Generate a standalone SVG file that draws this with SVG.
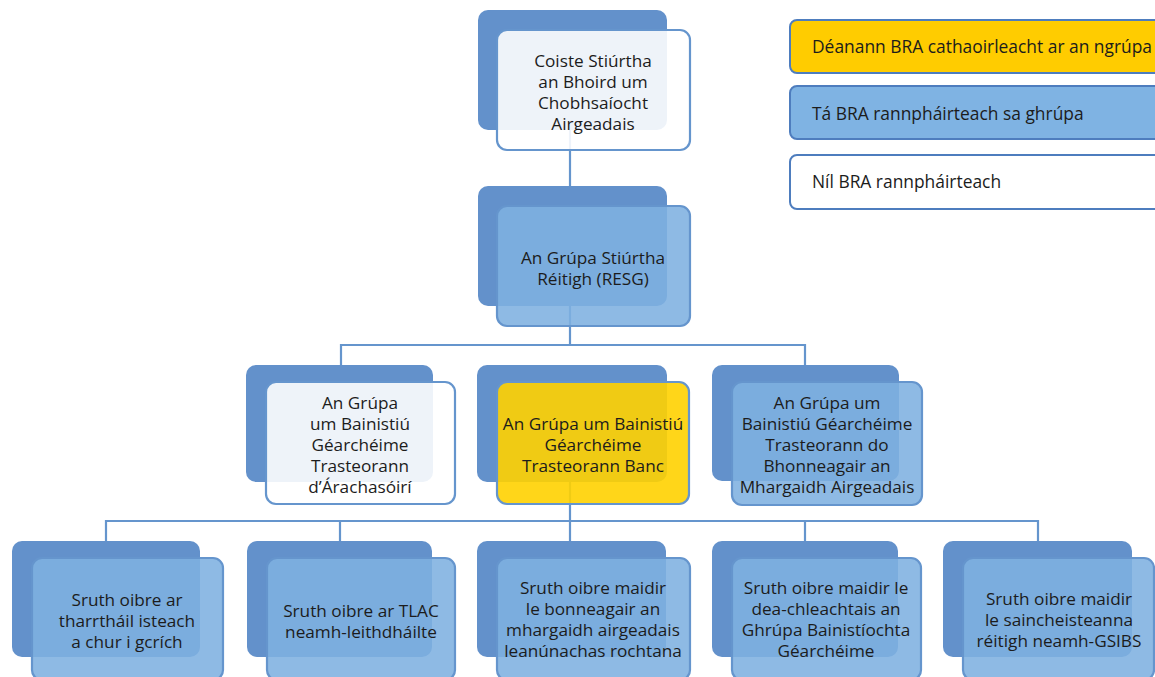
<svg xmlns="http://www.w3.org/2000/svg" width="1155" height="677" viewBox="0 0 1155 677">
<style>
.back{fill:#6391CB;}
.fw{fill:#ffffff;fill-opacity:0.89;stroke:#6595CD;stroke-width:2.2;}
.fb{fill:#7EB1E0;fill-opacity:0.88;stroke:#6595CD;stroke-width:2.2;}
.fy{fill:#FFD200;fill-opacity:0.9;stroke:#6595CD;stroke-width:2.2;}
.c{stroke:#6595CD;stroke-width:2.2;fill:none;}
text{font-family:"Open Sans","Noto Sans","Liberation Sans",sans-serif;font-size:17.2px;fill:#1c1c1c;text-anchor:middle;}
.lg{text-anchor:start;font-size:17.4px;}
.ly{fill:#FFCC00;stroke:#4E7DBE;stroke-width:2;}
.lb{fill:#7FB3E3;stroke:#4E7DBE;stroke-width:2;}
.lw{fill:#ffffff;stroke:#4E7DBE;stroke-width:2;}
</style>
<rect width="1155" height="677" fill="#ffffff"/>
<g id="connectors">
<path class="c" d="M570 130V186"/>
<path class="c" d="M570 306V345M341 345H805M341 344V365M805 344V365"/>
<path class="c" d="M570 482V541M106 521H1038M106 520V541M340 520V541M805 520V541M1038 520V541"/>
</g>
<g id="legend">
<rect class="ly" x="790" y="20" width="380" height="53" rx="7"/>
<text class="lg" x="812" y="53">Déanann BRA cathaoirleacht ar an ngrúpa</text>
<rect class="lb" x="790" y="86" width="380" height="53" rx="7"/>
<text class="lg" x="812" y="120">Tá BRA rannpháirteach sa ghrúpa</text>
<rect class="lw" x="790" y="155" width="380" height="54" rx="7"/>
<text class="lg" x="812" y="188">Níl BRA rannpháirteach</text>
</g>
<g id="n-coiste">
<rect class="back" x="478" y="10" width="189" height="120" rx="10"/>
<rect class="fw" x="497" y="30" width="193" height="120" rx="10"/>
<text x="593" y="66.5">Coiste Stiúrtha</text>
<text x="593" y="87.5">an Bhoird um</text>
<text x="593" y="108.5">Chobhsaíocht</text>
<text x="593" y="129.5">Airgeadais</text>
</g>
<g id="n-resg">
<rect class="back" x="478" y="186" width="189" height="120" rx="10"/>
<rect class="fb" x="497" y="206" width="193" height="120" rx="10"/>
<text x="593" y="264">An Grúpa Stiúrtha</text>
<text x="593" y="285">Réitigh (RESG)</text>
</g>
<g id="n-arach">
<rect class="back" x="246" y="365" width="187" height="117" rx="10"/>
<rect class="fw" x="266" y="382" width="189" height="122" rx="10"/>
<text x="360" y="409">An Grúpa</text>
<text x="360" y="430">um Bainistiú</text>
<text x="360" y="451">Géarchéime</text>
<text x="360" y="472">Trasteorann</text>
<text x="360" y="493">d’Árachasóirí</text>
</g>
<g id="n-banc">
<rect class="back" x="477" y="365" width="190" height="117" rx="10"/>
<rect class="fy" x="497" y="382" width="192" height="122" rx="10"/>
<text x="593" y="430">An Grúpa um Bainistiú</text>
<text x="593" y="451">Géarchéime</text>
<text x="593" y="472">Trasteorann Banc</text>
</g>
<g id="n-fma">
<rect class="back" x="712" y="365" width="187" height="116" rx="10"/>
<rect class="fb" x="732" y="382" width="190" height="123" rx="10"/>
<text x="827" y="409">An Grúpa um</text>
<text x="827" y="430">Bainistiú Géarchéime</text>
<text x="827" y="451">Trasteorann do</text>
<text x="827" y="472">Bhonneagair an</text>
<text x="827" y="493">Mhargaidh Airgeadais</text>
</g>
<g id="n-s1">
<rect class="back" x="12" y="541" width="188" height="116" rx="10"/>
<rect class="fb" x="32" y="558" width="191" height="122" rx="10"/>
<text x="127" y="606">Sruth oibre ar</text>
<text x="127" y="627">tharrtháil isteach</text>
<text x="127" y="648">a chur i gcrích</text>
</g>
<g id="n-s2">
<rect class="back" x="247" y="541" width="185" height="116" rx="10"/>
<rect class="fb" x="267" y="558" width="188" height="122" rx="10"/>
<text x="361" y="617">Sruth oibre ar TLAC</text>
<text x="361" y="638">neamh-leithdháilte</text>
</g>
<g id="n-s3">
<rect class="back" x="477" y="541" width="189" height="116" rx="10"/>
<rect class="fb" x="497" y="558" width="193" height="122" rx="10"/>
<text x="593" y="594">Sruth oibre maidir</text>
<text x="593" y="615">le bonneagair an</text>
<text x="593" y="636">mhargaidh airgeadais</text>
<text x="593" y="657">leanúnachas rochtana</text>
</g>
<g id="n-s4">
<rect class="back" x="712" y="541" width="186" height="116" rx="10"/>
<rect class="fb" x="732" y="558" width="189" height="122" rx="10"/>
<text x="826" y="594">Sruth oibre maidir le</text>
<text x="826" y="615">dea-chleachtais an</text>
<text x="826" y="636">Ghrúpa Bainistíochta</text>
<text x="826" y="657">Géarchéime</text>
</g>
<g id="n-s5">
<rect class="back" x="943" y="541" width="189" height="116" rx="10"/>
<rect class="fb" x="963" y="558" width="191" height="122" rx="10"/>
<text x="1059" y="605">Sruth oibre maidir</text>
<text x="1059" y="626">le saincheisteanna</text>
<text x="1059" y="647">réitigh neamh-GSIBS</text>
</g>
</svg>
